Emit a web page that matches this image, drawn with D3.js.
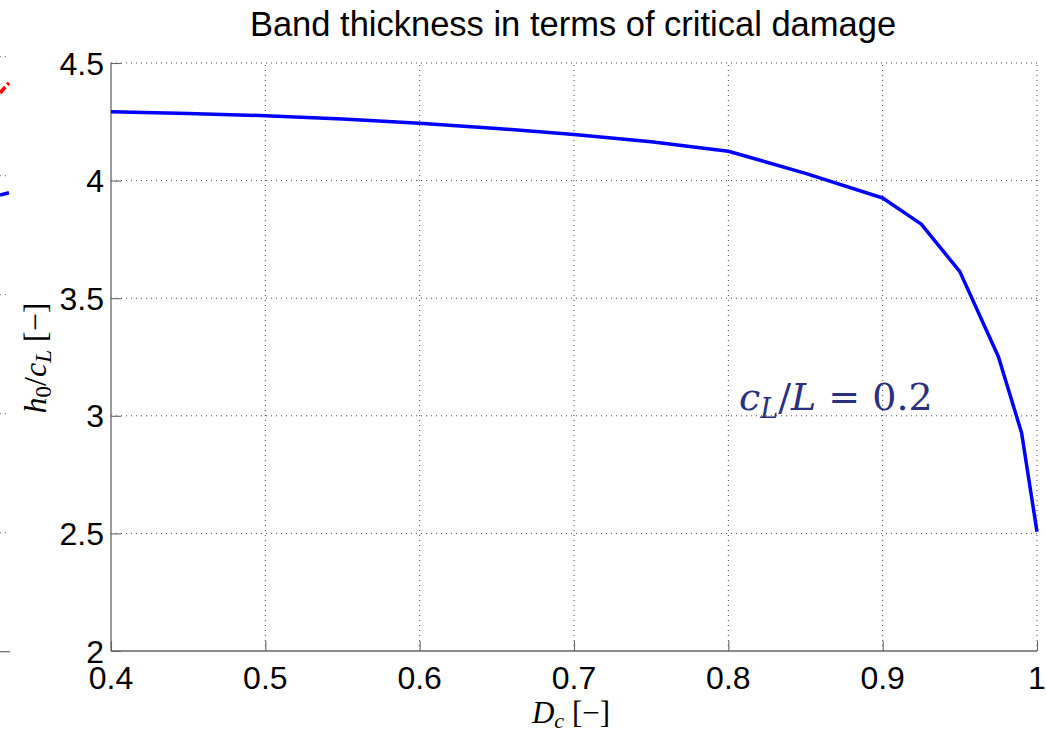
<!DOCTYPE html>
<html>
<head>
<meta charset="utf-8">
<script src="https://cdn.jsdelivr.net/npm/d3@7"></script>
<style>
  body { margin: 0; background: #fff; }
  svg { display: block; }
</style>
</head>
<body>
<svg id="chart" width="1046" height="732"></svg>
<script>
// critical damage values and the band thickness
const dc = [0.4, 0.45, 0.5, 0.55, 0.6, 0.65, 0.7, 0.75, 0.8, 0.85, 0.9, 0.925, 0.95, 0.975, 0.99, 1.0];
const h0 = [4.293, 4.285, 4.276, 4.262, 4.244, 4.222, 4.196, 4.165, 4.125, 4.031, 3.926, 3.815, 3.613, 3.251, 2.928, 2.507];

const xTicks = [0.4, 0.5, 0.6, 0.7, 0.8, 0.9, 1.0];
const xTickLabels = ["0.4", "0.5", "0.6", "0.7", "0.8", "0.9", "1"];
const yTicks = [2, 2.5, 3, 3.5, 4, 4.5];
const yTickLabels = ["2", "2.5", "3", "3.5", "4", "4.5"];

// cut-off edge of the neighbouring subplot at the far left
const nbTicks = [1, 2, 3, 4, 5];
const nbX = [0.99, 1.0];
const nbRed = [4.695, 4.78];
const nbBlue = [3.838, 3.857];

const svg = d3.select("#chart");

const x = d3.scaleLinear().domain([0.4, 1.0]).range([111, 1037]);
const y = d3.scaleLinear().domain([2, 4.5]).range([651, 63]);

// neighbour panel
const nx = d3.scaleLinear().domain([0.99, 1.0]).range([0, 9]);
const ny = d3.scaleLinear().domain([0, 5]).range([651.7, 56.7]);
const nb = svg.append("g");
nb.selectAll(".nbgrid")
    .data(nbTicks)
    .enter().append("line")
    .attr("x1", 0).attr("x2", 9)
    .attr("y1", d => ny(d)).attr("y2", d => ny(d))
    .style("stroke", "#777")
    .style("stroke-width", 1)
    .style("stroke-dasharray", "1,4");
nb.append("line")
    .attr("x1", 0).attr("x2", 10)
    .attr("y1", ny(0)).attr("y2", ny(0))
    .style("stroke", "#666")
    .style("stroke-width", 1.2);
const nbLine = (vals) => d3.line().x((d, i) => nx(nbX[i])).y(d => ny(d))(vals);
nb.append("path").attr("d", nbLine(nbRed))
    .style("stroke", "red").style("stroke-width", 3.5).style("fill", "none")
    .style("stroke-dasharray", "8,3");
nb.append("path").attr("d", nbLine(nbBlue))
    .style("stroke", "blue").style("stroke-width", 3.5).style("fill", "none");

// grid lines (dotted), MATLAB style
const g = svg.append("g");
g.selectAll(".xgrid")
    .data(xTicks.slice(1))
    .enter().append("line")
    .attr("x1", d => x(d)).attr("x2", d => x(d))
    .attr("y1", y(2)).attr("y2", y(4.5))
    .style("stroke", "#444")
    .style("stroke-width", 1)
    .style("stroke-dasharray", "1,4");
g.selectAll(".ygrid")
    .data(yTicks.slice(1))
    .enter().append("line")
    .attr("x1", x(0.4)).attr("x2", x(1.0))
    .attr("y1", d => y(d)).attr("y2", d => y(d))
    .style("stroke", "#444")
    .style("stroke-width", 1)
    .style("stroke-dasharray", "1,4");

// axes with inward ticks
const xAxis = d3.axisTop(x).tickValues(xTicks).tickSize(10).tickFormat("");
const yAxis = d3.axisRight(y).tickValues(yTicks).tickSize(10).tickFormat("");
const gx = g.append("g").attr("transform", `translate(0,${y(2)})`).call(xAxis);
const gy = g.append("g").attr("transform", `translate(${x(0.4)},0)`).call(yAxis);
[gx, gy].forEach(a => {
    a.select(".domain").attr("d", a === gx
        ? `M${x(0.4)},0H${x(1.0)}`
        : `M0,${y(4.5)}V${y(2)}`)
        .style("stroke", "#666").style("stroke-width", 1.3);
    a.selectAll(".tick line").style("stroke", "#666").style("stroke-width", 1.1);
});

// tick labels
g.selectAll(".xlab")
    .data(xTicks)
    .enter().append("text")
    .attr("x", d => x(d))
    .attr("y", 689)
    .attr("text-anchor", "middle")
    .style("font-family", "'Liberation Sans', Arial, sans-serif")
    .style("font-size", "32px")
    .text((d, i) => xTickLabels[i]);
g.selectAll(".ylab")
    .data(yTicks)
    .enter().append("text")
    .attr("x", 104)
    .attr("y", d => y(d))
    .attr("dy", "0.36em")
    .attr("text-anchor", "end")
    .style("font-family", "'Liberation Sans', Arial, sans-serif")
    .style("font-size", "32px")
    .text((d, i) => yTickLabels[i]);

// the curve
const line = d3.line().x((d, i) => x(dc[i])).y(d => y(d));
g.append("path")
    .attr("d", line(h0))
    .style("stroke", "#0000ff")
    .style("stroke-width", 3.5)
    .style("stroke-linejoin", "round")
    .style("fill", "none");

// title
svg.append("text")
    .attr("x", 573).attr("y", 36)
    .attr("text-anchor", "middle")
    .style("font-family", "'Liberation Sans', Arial, sans-serif")
    .style("font-size", "34.5px")
    .text("Band thickness in terms of critical damage");

// x label: D_c [−]
const xl = svg.append("text")
    .attr("x", 571).attr("y", 723)
    .attr("text-anchor", "middle")
    .style("font-family", "'Liberation Serif', 'Times New Roman', serif")
    .style("font-size", "31px");
xl.append("tspan").style("font-style", "italic").text("D");
xl.append("tspan").style("font-style", "italic").style("font-size", "22px").attr("dy", 5).text("c");
xl.append("tspan").attr("dy", -5).text(" [\u2212]");

// y label: h_0/c_L [−]
const yl = svg.append("text")
    .attr("transform", "translate(46,358) rotate(-90)")
    .attr("text-anchor", "middle")
    .style("font-family", "'Liberation Serif', 'Times New Roman', serif")
    .style("font-size", "32px");
yl.append("tspan").style("font-style", "italic").text("h");
yl.append("tspan").style("font-size", "23px").attr("dy", 5).text("0");
yl.append("tspan").attr("dy", -5).text("/");
yl.append("tspan").style("font-style", "italic").text("c");
yl.append("tspan").style("font-style", "italic").style("font-size", "23px").attr("dy", 5).text("L");
yl.append("tspan").attr("dy", -5).text(" [\u2212]");

// annotation c_L/L = 0.2
const ann = svg.append("text")
    .attr("x", 739).attr("y", 410)
    .style("font-family", "'DejaVu Serif', 'Liberation Serif', serif")
    .style("font-size", "38px")
    .style("fill", "#2b2f7e");
ann.append("tspan").style("font-style", "italic").text("c");
ann.append("tspan").style("font-style", "italic").style("font-size", "27px").attr("dy", 8).text("L");
ann.append("tspan").attr("dy", -8).text("/");
ann.append("tspan").style("font-style", "italic").text("L");
ann.append("tspan").text(" = 0.2");
</script>
</body>
</html>
